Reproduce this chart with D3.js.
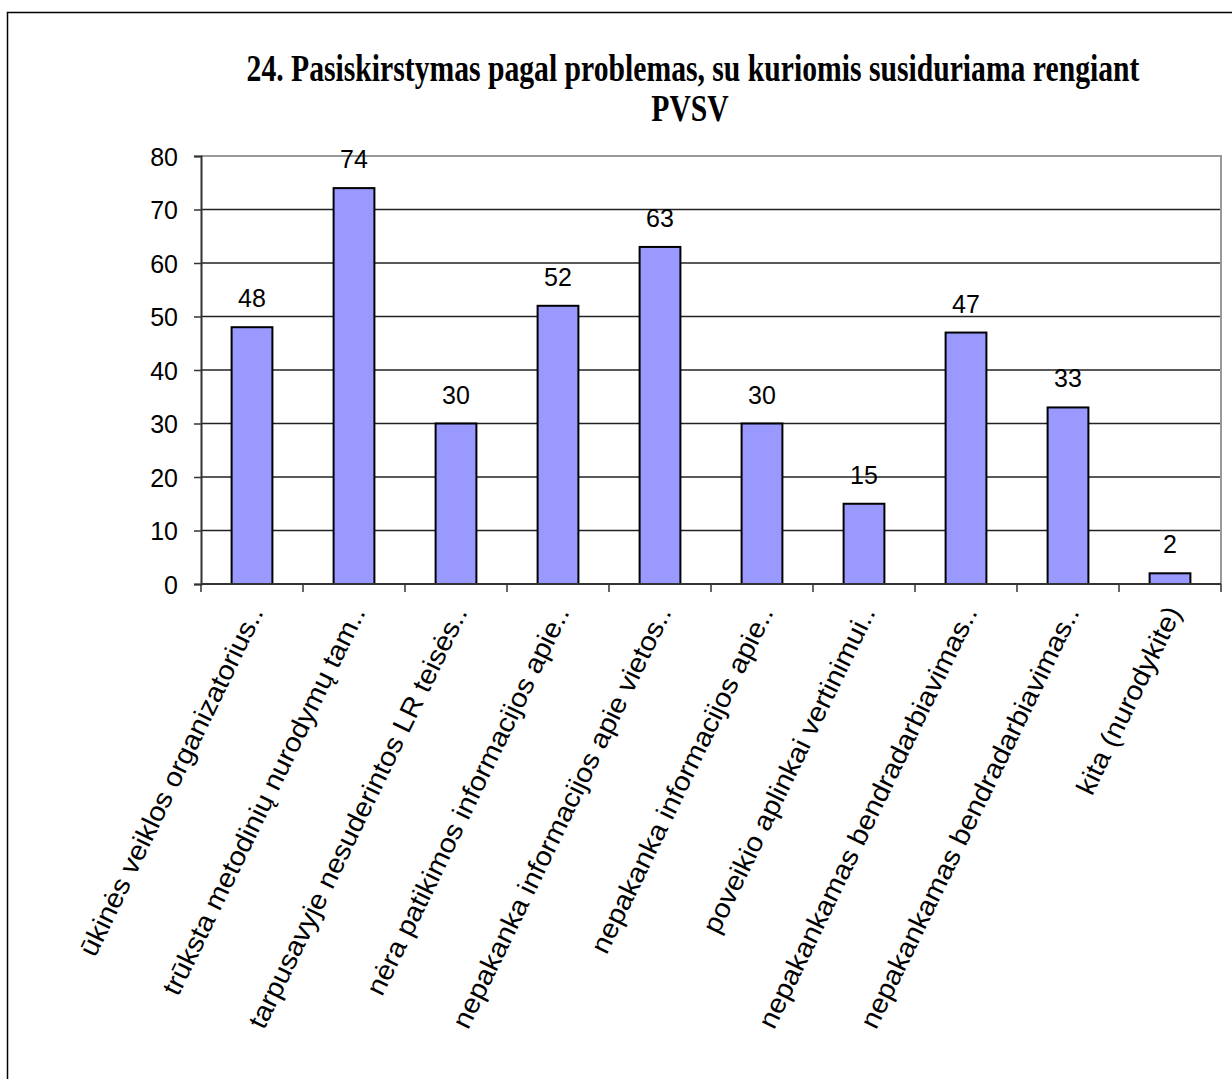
<!DOCTYPE html>
<html><head><meta charset="utf-8">
<script src="https://cdn.jsdelivr.net/npm/d3@7"></script>
<style>body{margin:0;background:#fff;} svg{display:block;}</style>
</head><body>
<svg id="chart" width="1232" height="1079"></svg>
<script>
const titleLines = ["24. Pasiskirstymas pagal problemas, su kuriomis susiduriama rengiant", "PVSV"];
const categories = [
  "ūkinės veiklos organizatorius..",
  "trūksta metodinių nurodymų tam..",
  "tarpusavyje nesuderintos LR teisės..",
  "nėra patikimos informacijos apie..",
  "nepakanka informacijos apie vietos..",
  "nepakanka informacijos apie..",
  "poveikio aplinkai vertinimui..",
  "nepakankamas bendradarbiavimas..",
  "nepakankamas bendradarbiavimas..",
  "kita (nurodykite)"
];
const values = [48, 74, 30, 52, 63, 30, 15, 47, 33, 2];
const yTicks = [0, 10, 20, 30, 40, 50, 60, 70, 80];

const svg = d3.select("#chart");
const L = 201, R = 1221, T = 156, B = 584;

// outer border
svg.append("path").attr("d", "M7.5,1079 L7.5,12.5 L1232,12.5")
  .attr("fill", "none").attr("stroke", "#000").attr("stroke-width", 1.5);

const x = d3.scaleBand().domain(d3.range(categories.length)).range([L, R]).padding(0);
const y = d3.scaleLinear().domain([0, 80]).range([B, T]);

// gridlines
svg.append("g").selectAll("line").data(yTicks.filter(d => d > 0 && d < 80)).join("line")
  .attr("x1", L).attr("x2", R).attr("y1", d => y(d)).attr("y2", d => y(d))
  .attr("stroke", "#222").attr("stroke-width", 1.5);

// plot border top and right (gray)
svg.append("path").attr("d", `M${L},${y(80)} L${R},${y(80)} L${R},${B}`)
  .attr("fill", "none").attr("stroke", "#999").attr("stroke-width", 2);

// bars
const bw = x.bandwidth() * 0.4;
svg.append("g").selectAll("rect").data(values).join("rect")
  .attr("x", (d, i) => x(i) + x.bandwidth() / 2 - bw / 2)
  .attr("width", bw)
  .attr("y", d => y(d))
  .attr("height", d => y(0) - y(d))
  .attr("fill", "#9999ff").attr("stroke", "#000").attr("stroke-width", 2);

// y axis
const yAxis = d3.axisLeft(y).tickValues(yTicks).tickSize(7).tickPadding(16);
const yg = svg.append("g").attr("transform", `translate(${L},0)`).call(yAxis);
yg.select(".domain").attr("stroke", "#333").attr("stroke-width", 2);
yg.selectAll(".tick line").attr("stroke", "#333").attr("stroke-width", 1.5);
yg.selectAll(".tick text").attr("font-family", "Liberation Sans, Arial, sans-serif")
  .attr("font-size", 25).attr("fill", "#000").attr("dy", "0.36em");

// x axis
const xg = svg.append("g").attr("transform", `translate(0,${B})`);
xg.append("line").attr("x1", L).attr("x2", R).attr("y1", 0).attr("y2", 0)
  .attr("stroke", "#333").attr("stroke-width", 2);
xg.selectAll("line.tk").data(d3.range(categories.length + 1)).join("line").attr("class", "tk")
  .attr("x1", i => i < categories.length ? x(i) : R).attr("x2", i => i < categories.length ? x(i) : R)
  .attr("y1", 0).attr("y2", 8).attr("stroke", "#333").attr("stroke-width", 1.5);

// x labels
svg.append("g").selectAll("text").data(categories).join("text")
  .attr("transform", (d, i) => `translate(${x(i) + x.bandwidth() / 2 + 12},${B + 28}) rotate(-64) scale(1.07,1)`)
  .attr("text-anchor", "end")
  .attr("font-family", "Liberation Sans, Arial, sans-serif")
  .attr("font-size", 27).attr("fill", "#000")
  .text(d => d);

// value labels
svg.append("g").selectAll("text").data(values).join("text")
  .attr("x", (d, i) => x(i) + x.bandwidth() / 2)
  .attr("y", d => y(d) - 20)
  .attr("text-anchor", "middle")
  .attr("font-family", "Liberation Sans, Arial, sans-serif")
  .attr("font-size", 25).attr("fill", "#000")
  .text(d => d);

// title
const tg = svg.append("g");
const t1 = tg.append("text").attr("font-family", "Liberation Serif, Times New Roman, serif")
  .attr("font-weight", "bold").attr("font-size", 38).attr("text-anchor", "middle")
  .attr("x", 0).attr("y", 0).text(titleLines[0]);
const w = t1.node().getComputedTextLength();
const sx = 893 / w;
t1.attr("transform", `translate(693,81) scale(${sx},1)`);
tg.append("text").attr("font-family", "Liberation Serif, Times New Roman, serif")
  .attr("font-weight", "bold").attr("font-size", 38).attr("text-anchor", "middle")
  .attr("transform", `translate(690,121) scale(${sx},1)`).text(titleLines[1]);
</script>
</body></html>
